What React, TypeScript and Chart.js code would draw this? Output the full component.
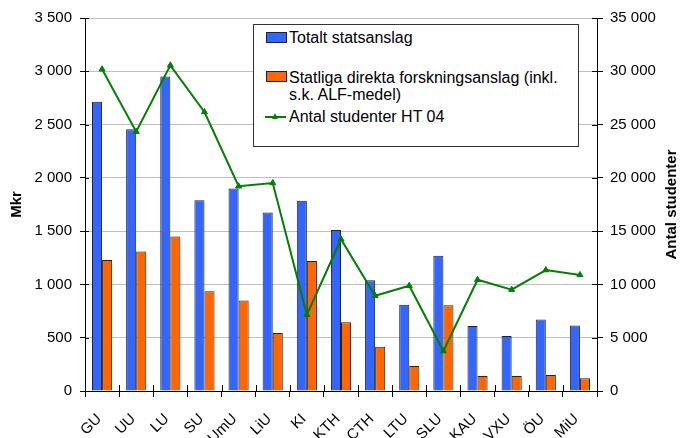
import React, { useEffect, useRef, useState } from "react";
import { Chart, registerables } from "chart.js";

Chart.register(...registerables);

const categories = ["GU", "UU", "LU", "SU", "UmU", "LiU", "KI", "KTH", "CTH", "LTU", "SLU", "KAU", "VXU", "ÖU", "MiU"];
const totaltStatsanslag = [2715, 2455, 2950, 1790, 1900, 1675, 1785, 1510, 1040, 810, 1270, 610, 515, 670, 615];
const forskningsanslag = [1230, 1310, 1450, 935, 850, 545, 1220, 645, 415, 235, 805, 140, 140, 150, 120];
const antalStudenter = [30190, 24330, 30560, 26180, 19210, 19520, 7160, 14240, 8940, 9880, 3750, 10440, 9510, 11350, 10890];
const leftMax = 3500;
const leftStep = 500;
const rightMax = 35000;
const rightStep = 5000;
const seriesLabels = [
  "Totalt statsanslag",
  "Statliga direkta forskningsanslag (inkl. s.k. ALF-medel)",
  "Antal studenter HT 04",
];
const leftTitle = "Mkr";
const rightTitle = "Antal studenter";

const FONT = "'Liberation Sans', Arial, Helvetica, sans-serif";
const BLUE = "#3366FF";
const ORANGE = "#FF6600";
const GREEN = "#008000";

const fmt = (v: number) => String(v).replace(/\B(?=(\d{3})+(?!\d))/g, " ");

const axisExtras = {
  id: "axisExtras",
  afterDraw(chart: any) {
    const ctx = chart.ctx;
    const { left, right, bottom, top } = chart.chartArea;
    const y = chart.scales.y;
    const y1 = chart.scales.y1;
    ctx.save();
    ctx.strokeStyle = "#000";
    ctx.lineWidth = 1;
    ctx.beginPath();
    y.ticks.forEach((_t: any, i: number) => {
      const p = Math.round(y.getPixelForTick(i)) + 0.5;
      ctx.moveTo(left, p);
      ctx.lineTo(left + 4, p);
    });
    y1.ticks.forEach((_t: any, i: number) => {
      const p = Math.round(y1.getPixelForTick(i)) + 0.5;
      ctx.moveTo(right - 5, p);
      ctx.lineTo(right, p);
    });
    const n = categories.length;
    for (let i = 0; i <= n; i++) {
      const p = Math.round(left + (i * (right - left)) / n) + 0.5;
      ctx.moveTo(p, bottom);
      ctx.lineTo(p, bottom - 6);
    }
    ctx.stroke();

    // right axis title, reading bottom-to-top
    ctx.fillStyle = "#000";
    ctx.font = `bold 15px ${FONT}`;
    ctx.textAlign = "center";
    ctx.textBaseline = "middle";
    ctx.translate(672, (top + bottom) / 2);
    ctx.rotate(-Math.PI / 2);
    ctx.fillText(rightTitle, 0, 0);
    ctx.restore();
  },
};

type LabelPos = { text: string; x: number; y: number };

export default function App() {
  const ref = useRef<HTMLCanvasElement | null>(null);
  const [labelPos, setLabelPos] = useState<LabelPos[]>([]);

  useEffect(() => {
    if (!ref.current) return;
    const chart = new Chart(ref.current, {
      type: "bar",
      data: {
        labels: categories,
        datasets: [
          {
            type: "line",
            label: seriesLabels[2],
            data: antalStudenter,
            yAxisID: "y1",
            borderColor: GREEN,
            backgroundColor: GREEN,
            borderWidth: 2,
            pointStyle: "triangle",
            pointRadius: 3.5,
            pointBackgroundColor: GREEN,
            pointBorderColor: GREEN,
            pointBorderWidth: 1,
            tension: 0,
            order: 0,
          } as any,
          {
            type: "bar",
            label: seriesLabels[0],
            data: totaltStatsanslag,
            yAxisID: "y",
            backgroundColor: BLUE,
            borderColor: "#222",
            borderWidth: 1,
            categoryPercentage: 0.59,
            barPercentage: 1,
            order: 1,
          },
          {
            type: "bar",
            label: seriesLabels[1],
            data: forskningsanslag,
            yAxisID: "y",
            backgroundColor: ORANGE,
            borderColor: "#222",
            borderWidth: 1,
            categoryPercentage: 0.59,
            barPercentage: 1,
            order: 1,
          },
        ],
      },
      options: {
        responsive: false,
        animation: false,
        layout: { padding: { top: 18, left: 0, right: 0, bottom: 0 } },
        plugins: {
          legend: { display: false },
          tooltip: { enabled: false },
        },
        scales: {
          x: {
            offset: true,
            afterFit: (s: any) => {
              s.height = 47;
            },
            grid: {
              display: true,
              offset: true,
              drawOnChartArea: false,
              drawTicks: true,
              tickLength: 6,
              tickColor: "#000",
              color: "#000",
            },
            border: { display: true, color: "#000", width: 1 },
            ticks: { display: false, autoSkip: false },
          },
          y: {
            position: "left",
            min: 0,
            max: leftMax,
            afterFit: (s: any) => {
              s.width = 85;
            },
            grid: {
              color: "#c0c0c0",
              lineWidth: 1,
              drawTicks: true,
              tickLength: 5,
              tickColor: "#000",
            },
            border: { display: true, color: "#000", width: 1 },
            ticks: {
              stepSize: leftStep,
              padding: 8,
              color: "#000",
              font: { family: FONT, size: 15 },
              callback: (v: any) => fmt(Number(v)),
            },
            title: {
              display: true,
              text: leftTitle,
              color: "#000",
              font: { family: FONT, size: 15, weight: "bold" },
              padding: { top: 8, bottom: 0 },
            },
          },
          y1: {
            position: "right",
            min: 0,
            max: rightMax,
            afterFit: (s: any) => {
              s.width = 87;
            },
            grid: {
              drawOnChartArea: false,
              drawTicks: true,
              tickLength: 6,
              tickColor: "#000",
            },
            border: { display: true, color: "#000", width: 1 },
            ticks: {
              stepSize: rightStep,
              padding: 7,
              color: "#000",
              font: { family: FONT, size: 15 },
              callback: (v: any) => fmt(Number(v)),
            },
          },
        },
      } as any,
      plugins: [axisExtras],
    });
    const xs: any = chart.scales.x;
    const b = chart.chartArea.bottom;
    setLabelPos(categories.map((text, i) => ({ text, x: xs.getPixelForValue(i) - 4, y: b + 25 })));
    return () => chart.destroy();
  }, []);

  const textStyle: React.CSSProperties = {
    position: "absolute",
    left: 289,
    fontFamily: FONT,
    fontSize: 16,
    lineHeight: "17px",
    color: "#000",
    whiteSpace: "nowrap",
  };

  return (
    <div style={{ position: "fixed", left: 0, top: 0, width: 684, height: 438, background: "#fff", overflow: "hidden" }}>
      <canvas ref={ref} width={684} height={438} style={{ display: "block", width: 684, height: 438 }} />
      {labelPos.map((l) => (
        <div key={l.text} style={{ position: "absolute", left: l.x, top: l.y, width: 0, height: 0 }}>
          <span
            style={{
              position: "absolute",
              right: 0,
              top: -9,
              lineHeight: "18px",
              fontFamily: FONT,
              fontSize: 15,
              color: "#000",
              whiteSpace: "nowrap",
              transform: "rotate(-45deg)",
              transformOrigin: "100% 50%",
            }}
          >
            {l.text}
          </span>
        </div>
      ))}
      <div
        style={{
          position: "absolute",
          left: 253,
          top: 24,
          width: 324,
          height: 121,
          border: "1px solid #333",
          background: "#fff",
          boxSizing: "content-box",
        }}
      />
      <div style={{ position: "absolute", left: 266, top: 32, width: 19, height: 9, background: BLUE, border: "1px solid #222" }} />
      <div style={{ ...textStyle, top: 29 }}>{seriesLabels[0]}</div>
      <div style={{ position: "absolute", left: 266, top: 71, width: 19, height: 9, background: ORANGE, border: "1px solid #222" }} />
      <div style={{ ...textStyle, top: 69 }}>
        Statliga direkta forskningsanslag (inkl.
        <br />
        s.k. ALF-medel)
      </div>
      <div style={{ position: "absolute", left: 265, top: 116, width: 21, height: 2, background: GREEN }} />
      <div
        style={{
          position: "absolute",
          left: 272,
          top: 113,
          width: 0,
          height: 0,
          borderLeft: "3.5px solid transparent",
          borderRight: "3.5px solid transparent",
          borderBottom: "6px solid " + GREEN,
        }}
      />
      <div style={{ ...textStyle, top: 108 }}>{seriesLabels[2]}</div>
    </div>
  );
}
